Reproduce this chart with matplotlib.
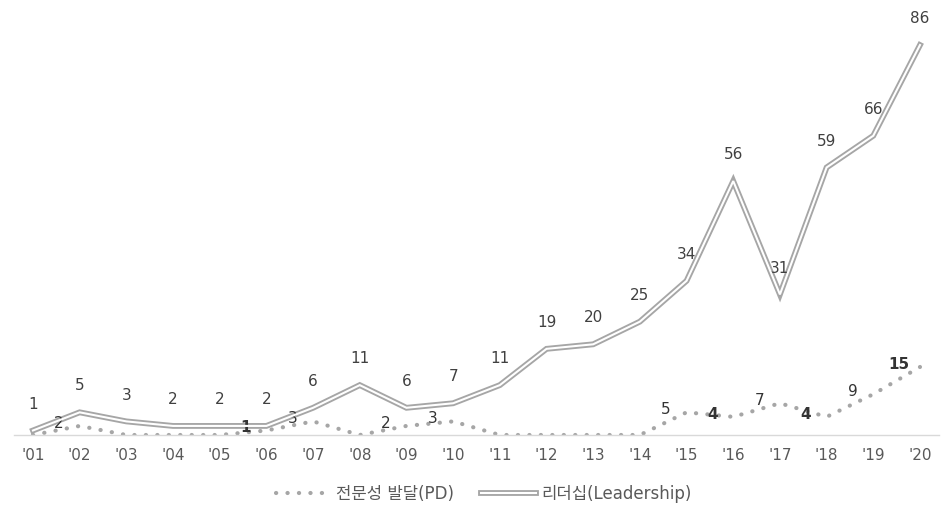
import matplotlib.pyplot as plt
from matplotlib.lines import Line2D
import numpy as np

plt.rcParams['font.family'] = ['DejaVu Sans', 'Noto Sans CJK KR']

years = ["'01", "'02", "'03", "'04", "'05", "'06", "'07", "'08", "'09", "'10",
         "'11", "'12", "'13", "'14", "'15", "'16", "'17", "'18", "'19", "'20"]
leadership = [1, 5, 3, 2, 2, 2, 6, 11, 6, 7, 11, 19, 20, 25, 34, 56, 31, 59, 66, 86]
pd_vals = [0, 2, 0, 0, 0, 1, 3, 0, 2, 3, 0, 0, 0, 0, 5, 4, 7, 4, 9, 15]

x = np.arange(len(years))
line_col = '#a6a6a6'
txt_col = '#404040'
dots = (0, (0.05, 2.7))

fig = plt.figure(figsize=(9.41, 5.08), dpi=100)
ax = fig.add_axes([0.0152, 0.1437, 0.9823, 0.848])

# 전문성 발달 (점선)
ax.plot(x, pd_vals, color=line_col, lw=3.0, linestyle=dots,
        dash_capstyle='round', zorder=2)

# 리더십 (이중선)
ax.plot(x, leadership, color=line_col, lw=4.2, solid_joinstyle='miter', zorder=3)
ax.plot(x, leadership, color='white', lw=1.5, solid_joinstyle='miter', zorder=4)

for xi, v in zip(x, leadership):
    ax.annotate(str(v), (xi, v), xytext=(0, 19), textcoords='offset points',
                ha='center', va='center', fontsize=11, color=txt_col)

for xi, v in zip(x, pd_vals):
    if v == 0:
        continue
    ax.annotate(str(v), (xi, v), xytext=(-15, 2), textcoords='offset points',
                ha='center', va='center', fontsize=11, color='#333333',
                fontweight='bold' if v in (4, 15, 1) else 'normal')

ax.set_xlim(-0.4, 19.4)
ax.set_ylim(0, 95)
ax.set_xticks(x)
ax.set_xticklabels(years, fontsize=11, color='#595959')
ax.tick_params(axis='x', length=0, pad=9)
ax.set_yticks([])
for s in ['top', 'right', 'left']:
    ax.spines[s].set_visible(False)
ax.spines['bottom'].set_color('#d9d9d9')
ax.spines['bottom'].set_linewidth(1)

h_pd = Line2D([], [], color=line_col, lw=3.0, linestyle=dots,
              dash_capstyle='round')
h_l1 = Line2D([], [], color=line_col, lw=4.2)
h_l2 = Line2D([], [], color='white', lw=1.5)
fig.legend([h_pd, (h_l1, h_l2)], ['전문성 발달(PD)', '리더십(Leadership)'],
           loc='center', bbox_to_anchor=(0.514, 0.028), ncol=2, frameon=False,
           fontsize=12, labelcolor='#595959', handlelength=3.3,
           handletextpad=0.3, columnspacing=1.6)

fig.savefig('out.png', dpi=100)
